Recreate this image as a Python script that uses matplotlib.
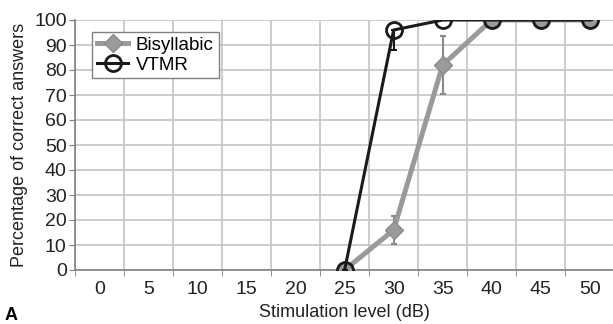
import numpy as np
import matplotlib
matplotlib.use("Agg")
import matplotlib.pyplot as plt
from matplotlib.ticker import FixedLocator

# data
levels = [0, 5, 10, 15, 20, 25, 30, 35, 40, 45, 50]
bis_levels = [25, 30, 35, 40, 45, 50]
bis_vals = [0, 16, 82, 100, 100, 100]
bis_err = [0, 5.5, 11.5, 0, 0, 0]
vtmr_levels = [25, 30, 35, 40, 45, 50]
vtmr_vals = [0, 96, 100, 100, 100, 100]
vtmr_err_lo = [0, 8, 0, 0, 0, 0]
vtmr_err_hi = [0, 0, 0, 0, 0, 0]

plt.rcParams['font.family'] = ['Liberation Sans', 'DejaVu Sans']

fig = plt.figure(figsize=(6.13, 3.24), dpi=100)
ax = fig.add_axes([75/613, 54/324, 1 - 75/613 + 0.002, 250/324])

pos = {lv: i for i, lv in enumerate(levels)}
bx = [pos[v] for v in bis_levels]
vx = [pos[v] for v in vtmr_levels]

gray = '#9a9a9a'
txt = '#222222'

# error bars first, without legend entries
ax.errorbar(bx, bis_vals, yerr=bis_err, fmt='none', ecolor='#8a8a8a',
            elinewidth=1.5, capsize=2.5, capthick=1.5, zorder=3)
ax.errorbar(vx, vtmr_vals, yerr=[vtmr_err_lo, vtmr_err_hi], fmt='none',
            ecolor='#1a1a1a', elinewidth=1.5, capsize=2.5, capthick=1.5, zorder=4)

ax.plot(bx, bis_vals, color=gray, lw=3.6, marker='D', ms=9.5,
        mfc=gray, mec='#8a8a8a', label='Bisyllabic', zorder=3)
ax.plot(vx, vtmr_vals, color='#1a1a1a', lw=2.2, marker='o', ms=11.5,
        mfc='none', mec='#1a1a1a', mew=2, label='VTMR', zorder=4)

ax.set_xlim(-0.5, len(levels) - 0.5)
ax.set_ylim(0, 100)
ax.set_xticks(range(len(levels)))
ax.set_xticklabels([str(v) for v in levels])
ax.xaxis.set_minor_locator(FixedLocator(np.arange(-0.5, len(levels), 1)))
ax.set_yticks(range(0, 101, 10))

ax.grid(True, which='minor', axis='x', color='#c4c4c4', lw=1.2)
ax.grid(True, which='major', axis='y', color='#c4c4c4', lw=1.2)
ax.set_axisbelow(True)
ax.tick_params(axis='x', which='major', length=0, labelsize=14, pad=8, labelcolor=txt)
ax.tick_params(axis='x', which='minor', length=4, color='#808080', direction='out')
ax.tick_params(axis='y', length=4, color='#808080', labelsize=14, pad=2, labelcolor=txt)

for s in ['top', 'right']:
    ax.spines[s].set_visible(False)
for s in ['left', 'bottom']:
    ax.spines[s].set_color('#808080')
    ax.spines[s].set_linewidth(1.2)

ax.set_xlabel('Stimulation level (dB)', fontsize=13, color=txt, labelpad=4)
ax.set_ylabel('Percentage of correct answers', fontsize=13, color=txt, labelpad=4)

leg = ax.legend(loc='upper left', bbox_to_anchor=(0.014, 0.99), fontsize=13.5,
                frameon=True, fancybox=False, edgecolor='#808080', handlelength=1.7,
                borderpad=0.25, labelspacing=0.15, handletextpad=0.4, framealpha=1)
leg.get_frame().set_linewidth(1)

fig.text(0.008, 0.0, 'A', fontsize=13, fontweight='bold', va='bottom')

fig.savefig('out.png', dpi=100)
